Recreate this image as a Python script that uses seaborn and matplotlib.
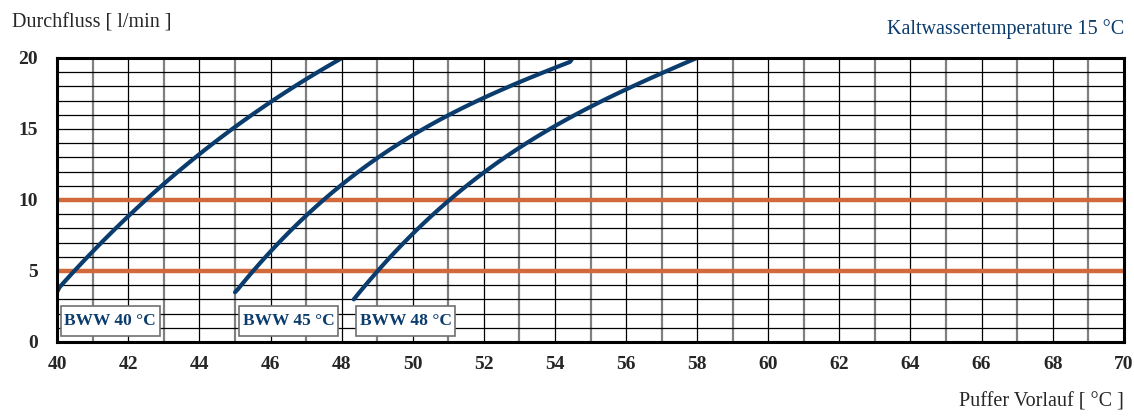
import numpy as np
import pandas as pd
import matplotlib
matplotlib.use("Agg")
import matplotlib.pyplot as plt
from matplotlib.patches import Rectangle
import seaborn as sns

bww40_x = [40.0, 40.4, 41, 42, 42.5, 43, 44, 45, 46, 47, 48]
bww40_y = [3.55, 5.0, 6.3, 8.85, 10.0, 11.1, 13.3, 15.1, 16.95, 18.45, 20.0]

bww45_x = [45.0, 45.47, 46, 47, 47.5, 48, 49, 50, 51, 52, 53, 54, 54.5]
bww45_y = [3.5, 5.0, 6.15, 8.97, 10.0, 11.0, 12.96, 14.65, 16.05, 17.2, 18.2, 19.1, 20.0]

bww48_x = [48.34, 49.03, 50, 51, 52, 53, 54, 55, 56, 57, 58]
bww48_y = [3.0, 5.0, 7.72, 9.9, 11.88, 13.7, 15.23, 16.53, 17.8, 18.94, 20.0]

labels = ["BWW 40 °C", "BWW 45 °C", "BWW 48 °C"]
label_left = [40.1, 45.12, 48.41]
ref_lines = [5, 10]

x_ticks = list(range(40, 71, 2))
y_ticks = [0, 5, 10, 15, 20]

rows = []
for name, xs, ys in zip(labels, [bww40_x, bww45_x, bww48_x], [bww40_y, bww45_y, bww48_y]):
    for a, b in zip(xs, ys):
        rows.append({"curve": name, "x": a, "y": b})
df = pd.DataFrame(rows)

navy = "#0b3c6e"
orange = "#d2693a"

sns.set_style("white")
plt.rcParams["font.family"] = ["Liberation Serif", "DejaVu Serif"]

fig = plt.figure(figsize=(11.34, 4.17), dpi=100)
ax = fig.add_axes([0.0505, 0.18, 0.9405, 0.681])

# grid: every unit, even x black, odd x grey
for gx in range(41, 70):
    if gx % 2 == 0:
        ax.axvline(gx, color="black", lw=0.9, zorder=1)
    else:
        ax.axvline(gx, color="#808080", lw=1.6, zorder=1)
for gy in range(1, 20):
    ax.axhline(gy, color="black", lw=0.9, zorder=1)

for r in ref_lines:
    ax.axhline(r, color=orange, lw=3.2, zorder=2)

# smooth the curves a bit between the read points
smooth = []
for name in labels:
    sub = df[df["curve"] == name]
    xs = np.linspace(sub["x"].min(), sub["x"].max(), 120)
    coef = np.polyfit(sub["x"], sub["y"], 3)
    ys = np.polyval(coef, xs)
    ys[0], ys[-1] = sub["y"].iloc[0], sub["y"].iloc[-1]
    smooth.append(pd.DataFrame({"curve": name, "x": xs, "y": ys}))
smooth = pd.concat(smooth)

sns.lineplot(data=smooth, x="x", y="y", units="curve", estimator=None,
             color=navy, lw=3.0, ax=ax, zorder=3, legend=False)

for name, lx in zip(labels, label_left):
    ax.add_patch(Rectangle((lx, 0.45), 2.78, 2.05, fc="white", ec="#707070",
                           lw=1.2, zorder=4))
    ax.text(lx + 1.39, 1.45, name, color=navy, fontsize=12.5, fontweight="bold",
            ha="center", va="center", zorder=5)

ax.set_xlim(40, 70)
ax.set_ylim(0, 20)
ax.set_xticks(x_ticks)
ax.set_yticks(y_ticks)
ax.tick_params(length=0, labelsize=14)
ax.tick_params(axis="x", pad=10)
ax.tick_params(axis="y", pad=14)
for t in ax.get_xticklabels() + ax.get_yticklabels():
    t.set_fontweight("bold")
ax.set_xlabel("")
ax.set_ylabel("")
for s in ax.spines.values():
    s.set_visible(True)
    s.set_color("black")
    s.set_linewidth(2.2)
    s.set_zorder(6)

fig.text(0.011, 0.945, "Durchfluss [ l/min ]", fontsize=14.5, ha="left", va="center")
fig.text(0.991, 0.93, "Kaltwassertemperature 15 °C", fontsize=14.5, color=navy,
         ha="right", va="center")
fig.text(0.991, 0.035, "Puffer Vorlauf [ °C ]", fontsize=14.5, ha="right", va="center")

fig.savefig("out.png", dpi=100)
